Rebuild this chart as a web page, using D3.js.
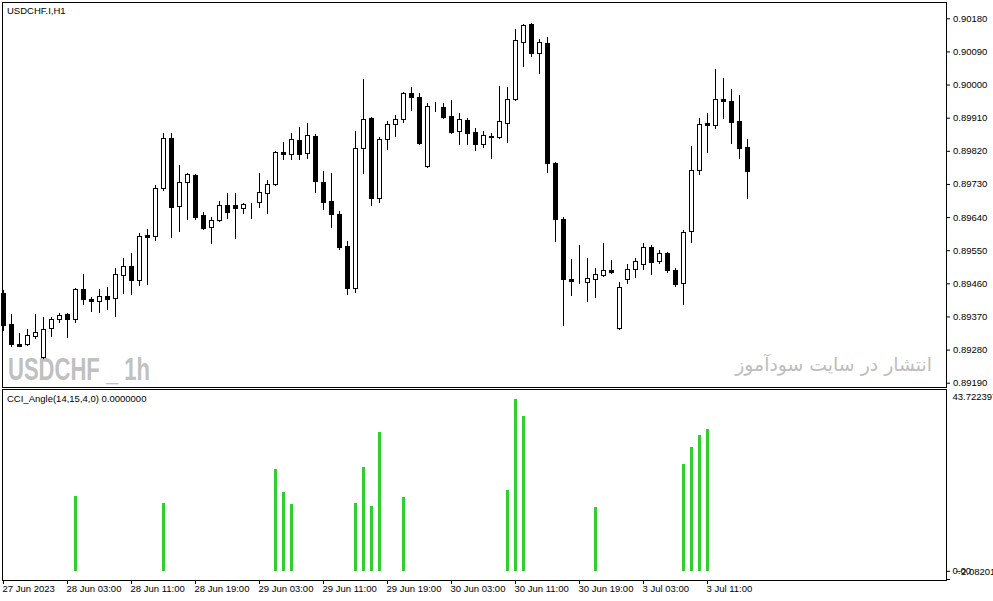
<!DOCTYPE html>
<html><head><meta charset="utf-8">
<script src="https://cdn.jsdelivr.net/npm/d3@7"></script>
<style>body{margin:0;background:#fff;} svg{display:block;}</style>
</head><body>
<script>
// ---------- DATA ----------
const openP = [0.89434,0.89350,0.89295,0.89294,0.89318,0.89261,0.89338,0.89362,0.89377,0.89362,
0.89444,0.89418,0.89411,0.89426,0.89419,0.89482,0.89506,0.89470,0.89592,0.89589,
0.89718,0.89856,0.89670,0.89734,0.89754,0.89646,0.89612,0.89632,0.89673,0.89673,
0.89664,0.89676,0.89680,0.89706,0.89729,0.89816,0.89810,0.89849,0.89813,0.89860,
0.89736,0.89684,0.89648,0.89561,0.89446,0.89827,0.89909,0.89693,0.89851,0.89892,
0.89906,0.89976,0.89967,0.89779,0.89942,0.89939,0.89915,0.89875,0.89904,0.89870,
0.89838,0.89860,0.89858,0.89896,0.89960,0.90116,0.90164,0.90085,0.90112,0.89786,
0.89634,0.89471,0.89467,0.89464,0.89473,0.89483,0.89495,0.89338,0.89473,0.89500,
0.89512,0.89558,0.89521,0.89542,0.89496,0.89460,0.89601,0.89768,0.89895,0.89889,
0.89960,0.89955,0.89901,0.89831];
const highP = [0.89442,0.89377,0.89326,0.89335,0.89377,0.89369,0.89369,0.89380,0.89380,0.89447,
0.89485,0.89422,0.89444,0.89449,0.89501,0.89529,0.89543,0.89598,0.89608,0.89727,
0.89868,0.89868,0.89781,0.89761,0.89757,0.89654,0.89640,0.89684,0.89705,0.89705,
0.89678,0.89679,0.89759,0.89741,0.89819,0.89843,0.89868,0.89885,0.89895,0.89866,
0.89765,0.89759,0.89656,0.89575,0.89874,0.90015,0.89912,0.89858,0.89902,0.89917,
0.89980,0.89993,0.89976,0.89949,0.89952,0.89949,0.89958,0.89922,0.89908,0.89881,
0.89874,0.89869,0.89996,0.89993,0.90150,0.90164,0.90166,0.90124,0.90128,0.89789,
0.89641,0.89525,0.89564,0.89528,0.89501,0.89569,0.89523,0.89463,0.89513,0.89528,
0.89569,0.89564,0.89550,0.89546,0.89501,0.89605,0.89834,0.89910,0.89923,0.90042,
0.90019,0.89988,0.89972,0.89852];
const lowP = [0.89333,0.89290,0.89289,0.89292,0.89312,0.89257,0.89318,0.89354,0.89315,0.89354,
0.89405,0.89386,0.89382,0.89391,0.89371,0.89435,0.89432,0.89455,0.89458,0.89578,
0.89714,0.89587,0.89603,0.89634,0.89634,0.89608,0.89569,0.89630,0.89637,0.89582,
0.89650,0.89637,0.89668,0.89650,0.89727,0.89798,0.89798,0.89797,0.89800,0.89709,
0.89662,0.89614,0.89553,0.89430,0.89437,0.89761,0.89673,0.89682,0.89825,0.89860,
0.89899,0.89931,0.89838,0.89776,0.89929,0.89910,0.89868,0.89838,0.89838,0.89822,
0.89830,0.89801,0.89856,0.89845,0.89958,0.90051,0.90078,0.90031,0.89763,0.89576,
0.89347,0.89428,0.89462,0.89413,0.89424,0.89481,0.89489,0.89336,0.89462,0.89477,
0.89500,0.89485,0.89516,0.89492,0.89454,0.89403,0.89573,0.89757,0.89818,0.89881,
0.89908,0.89840,0.89800,0.89691];
const closeP = [0.89347,0.89295,0.89291,0.89320,0.89327,0.89335,0.89363,0.89373,0.89362,0.89444,
0.89417,0.89412,0.89425,0.89418,0.89485,0.89506,0.89470,0.89589,0.89587,0.89718,
0.89854,0.89668,0.89734,0.89757,0.89641,0.89610,0.89632,0.89673,0.89655,0.89664,
0.89676,0.89675,0.89709,0.89730,0.89816,0.89810,0.89851,0.89810,0.89862,0.89738,
0.89682,0.89648,0.89560,0.89448,0.89827,0.89906,0.89691,0.89851,0.89892,0.89906,
0.89976,0.89967,0.89840,0.89942,0.89943,0.89913,0.89872,0.89906,0.89868,0.89838,
0.89863,0.89857,0.89900,0.89960,0.90120,0.90162,0.90085,0.90115,0.89786,0.89634,
0.89471,0.89467,0.89466,0.89474,0.89485,0.89495,0.89491,0.89449,0.89498,0.89521,
0.89558,0.89519,0.89542,0.89496,0.89457,0.89599,0.89768,0.89893,0.89889,0.89961,
0.89955,0.89899,0.89828,0.89766];
// CCI_Angle histogram (one value per bar, 0 = no bar)
const cciAngle = [0,0,0,0,0,0,0,0,0,19.0,
0,0,0,0,0,0,0,0,0,0,
17.2,0,0,0,0,0,0,0,0,0,
0,0,0,0,25.9,20.0,17.0,0,0,0,
0,0,0,0,17.2,26.4,16.5,35.3,0,0,
18.8,0,0,0,0,0,0,0,0,0,
0,0,0,20.5,43.722397,39.4,0,0,0,0,
0,0,0,0,16.2,0,0,0,0,0,
0,0,0,0,0,27.2,31.5,34.6,36.1,0,
0,0,0,0];
const timeTickBars = [0,8,16,24,32,40,48,56,64,72,80,88];
const timeTickLabels = ["27 Jun 2023","28 Jun 03:00","28 Jun 11:00","28 Jun 19:00","29 Jun 03:00",
"29 Jun 11:00","29 Jun 19:00","30 Jun 03:00","30 Jun 11:00","30 Jun 19:00","3 Jul 03:00","3 Jul 11:00"];
const priceTicks = [0.89190,0.89280,0.89370,0.89460,0.89550,0.89640,0.89730,0.89820,0.89910,0.90000,0.90090,0.90180];
const cciScaleMax = 43.722397;
const cciScaleMin = -2.082018;

// ---------- LAYOUT ----------
const W = 993, H = 601;
const L = 2.5, R = 946.5, mainTop = 2.5, mainBot = 387.5, indTop = 389.5, indBot = 580.5;
const FONT = "'Liberation Sans', Arial, sans-serif";

const svg = d3.select("body").append("svg").attr("width", W).attr("height", H)
  .style("font-family", FONT);

const x = d3.scaleLinear().domain([0, 93]).range([3, 747]);
const y = d3.scaleLinear().domain([0.89190, 0.90180]).range([382.7, 18.3]);
const yi = d3.scaleLinear().domain([cciScaleMin, cciScaleMax]).range([579, 399]);

// frames
svg.append("rect").attr("x", L).attr("y", mainTop).attr("width", R - L).attr("height", mainBot - mainTop)
  .attr("fill", "none").attr("stroke", "#000");
svg.append("rect").attr("x", L).attr("y", indTop).attr("width", R - L).attr("height", indBot - indTop)
  .attr("fill", "none").attr("stroke", "#000");

// watermarks
svg.append("text").attr("x", 8).attr("y", 380).text("USDCHF _ 1h")
  .attr("font-family", "'Liberation Sans Narrow', 'Liberation Sans', sans-serif")
  .attr("font-weight", "bold").attr("font-size", 32).attr("fill", "#c0c0c0")
  .attr("textLength", 142).attr("lengthAdjust", "spacingAndGlyphs");
const fa = svg.append("text").attr("x", 932).attr("y", 371).attr("text-anchor", "end")
  .text("انتشار در سایت سودآموز")
  .attr("font-family", "'DejaVu Sans', sans-serif").attr("font-size", 20).attr("fill", "#bdbdbd");
const faw = fa.node().getComputedTextLength();
if (faw > 0) fa.attr("font-size", 20 * 197 / faw);

// candles
const idx = d3.range(openP.length);
const cg = svg.append("g").attr("shape-rendering", "crispEdges");
cg.selectAll("line.wick").data(idx).join("line")
  .attr("x1", i => Math.round(x(i)) + 0.5).attr("x2", i => Math.round(x(i)) + 0.5)
  .attr("y1", i => Math.round(y(highP[i]))).attr("y2", i => Math.round(y(lowP[i])) + 1)
  .attr("stroke", "#000");
cg.selectAll("rect.body").data(idx).join("rect")
  .attr("x", i => Math.round(x(i)) - 1.5).attr("width", 4)
  .attr("y", i => Math.round(y(Math.max(openP[i], closeP[i]))) + 0.5)
  .attr("height", i => Math.round(y(Math.min(openP[i], closeP[i]))) - Math.round(y(Math.max(openP[i], closeP[i]))))
  .attr("fill", i => closeP[i] >= openP[i] ? "#fff" : "#000").attr("stroke", "#000");

// right price axis
const ax = svg.append("g").attr("transform", `translate(${R - 0.5},0)`)
  .call(d3.axisRight(y).tickValues(priceTicks).tickFormat(d3.format(".5f")).tickSize(4).tickPadding(3));
ax.select(".domain").remove();
ax.selectAll("text").attr("font-size", 9.5).attr("font-family", FONT).attr("fill", "#000");

// indicator bars
svg.append("g").attr("shape-rendering", "crispEdges").selectAll("rect")
  .data(idx.filter(i => cciAngle[i] > 0)).join("rect")
  .attr("x", i => Math.round(x(i)) - 1).attr("width", 3)
  .attr("y", i => Math.round(yi(cciAngle[i])))
  .attr("height", i => Math.round(yi(0)) - Math.round(yi(cciAngle[i])))
  .attr("fill", "#32cd32");

// indicator axis labels
const ia = svg.append("g").attr("transform", `translate(${R - 0.5},0)`)
  .call(d3.axisRight(yi).tickValues([cciScaleMin, 0]).tickFormat(() => "").tickSize(4));
ia.select(".domain").remove();
const il = svg.append("g").attr("font-size", 9.5).attr("fill", "#000");
il.append("text").attr("x", R + 6).attr("y", yi(cciScaleMax) + 1).text(d3.format(".6f")(cciScaleMax));
il.append("text").attr("x", R + 9).attr("y", yi(0) + 4).text(d3.format(".6f")(cciScaleMin));
il.append("text").attr("x", R + 6).attr("y", yi(0) + 3).text("0.00");

// time axis
const tx = svg.append("g").attr("transform", `translate(0,${indBot - 0.5})`)
  .call(d3.axisBottom(x).tickValues(timeTickBars).tickFormat((d, k) => timeTickLabels[k]).tickSize(4).tickPadding(1));
tx.select(".domain").remove();
tx.selectAll("text").attr("font-size", 9.5).attr("font-family", FONT).attr("fill", "#000")
  .attr("text-anchor", "start").attr("dx", "-1");

// titles
svg.append("text").attr("x", 7).attr("y", 14).attr("font-size", 9.5).text("USDCHF.I,H1");
svg.append("text").attr("x", 7).attr("y", 402).attr("font-size", 9.5).text("CCI_Angle(14,15,4,0) 0.0000000");
</script>
</body></html>
